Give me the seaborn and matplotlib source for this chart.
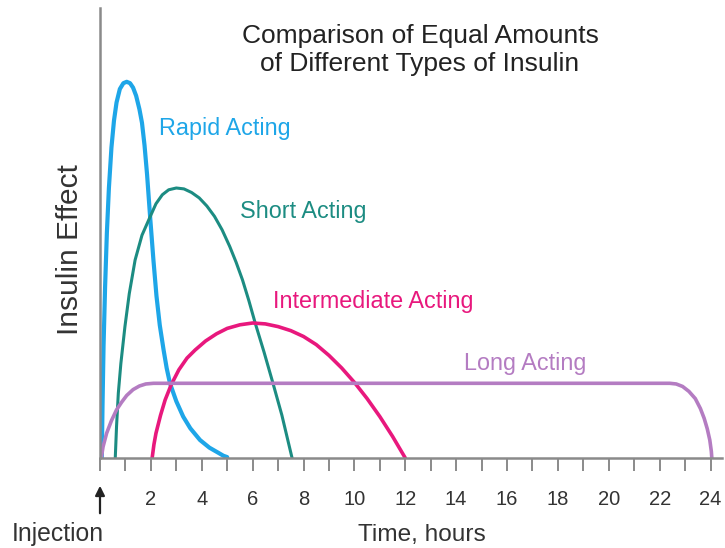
import matplotlib
matplotlib.use("Agg")
import matplotlib.pyplot as plt
import seaborn as sns

# data (hours after injection, relative insulin effect)
rapid_hours = [0.07, 0.1, 0.14, 0.2, 0.27, 0.35, 0.45, 0.55, 0.65, 0.78, 0.92, 1.05,
               1.18, 1.3, 1.42, 1.55, 1.65, 1.75, 1.85, 1.97, 2.1, 2.22, 2.35, 2.5,
               2.62, 2.75, 3.0, 3.27, 3.55, 3.93, 4.3, 4.7, 4.85, 5.0]
rapid_effect = [0, 12, 25, 38, 50, 60, 69, 75, 79, 82, 83.3, 83.6,
                83.3, 82.3, 80.5, 77.5, 74.5, 69.5, 63, 53.6, 44, 36, 29.5, 24,
                20, 16.6, 12.6, 9.2, 6.6, 4.0, 2.3, 1.0, 0.5, 0.2]

short_hours = [0.6, 0.65, 0.72, 0.82, 0.98, 1.15, 1.38, 1.65, 1.97, 2.2, 2.45, 2.7,
               3.0, 3.3, 3.6, 3.9, 4.2, 4.5, 4.8, 5.1, 5.35, 5.6, 5.85, 6.1,
               6.45, 6.8, 7.15, 7.55]
short_effect = [0, 7, 14.4, 21, 29.2, 36.5, 44, 49.5, 53.6, 56.5, 58.5, 59.6,
                60, 59.8, 59, 57.8, 56, 53.7, 50.7, 47, 43.5, 39.6, 35, 30,
                23.5, 16.6, 9.5, 0]

inter_hours = [2.05, 2.12, 2.2, 2.38, 2.56, 2.8, 3.1, 3.42, 3.74, 4.15, 4.58, 5.0,
               5.5, 6.0, 6.5, 7.0, 7.5, 8.0, 8.5, 9.0, 9.5, 10.0, 10.5, 11.0,
               11.5, 12.0]
inter_effect = [0, 3, 5.5, 9.5, 12.9, 16.3, 19.6, 22.2, 24, 26, 27.6, 28.8,
                29.6, 30, 29.8, 29.2, 28.3, 27, 25.2, 22.8, 20.0, 16.8, 13.2, 9.2,
                4.8, 0]

long_hours = [0.05, 0.12, 0.26, 0.45, 0.65, 0.85, 1.05, 1.3, 1.55, 1.8, 2.1,
              22.4, 22.65, 22.9, 23.15, 23.4, 23.6, 23.75, 23.87, 23.97, 24.03, 24.05]
long_effect = [0, 2.5, 5.5, 8.3, 10.7, 12.4, 13.9, 15.2, 16.0, 16.45, 16.6,
               16.6, 16.45, 15.9, 14.8, 13.2, 11, 8.8, 6.5, 4, 1.5, 0]

hour_ticks = list(range(0, 25))
hour_labels = [str(h) if h % 2 == 0 and h > 0 else "" for h in hour_ticks]

series = [
    ("Rapid Acting", rapid_hours, rapid_effect, "#1ea6e8", 3.0, (2.32, 73.3)),
    ("Short Acting", short_hours, short_effect, "#1c8c82", 2.2, (5.5, 54.8)),
    ("Intermediate Acting", inter_hours, inter_effect, "#e8187d", 2.6, (6.81, 34.7)),
    ("Long Acting", long_hours, long_effect, "#b47cc2", 2.6, (14.3, 21.1)),
]

sns.set_theme(style="white")
plain = ["Liberation Sans", "DejaVu Sans"]
plt.rcParams["font.family"] = plain

fig = plt.figure(figsize=(7.25, 5.48), dpi=100)
ax = fig.add_axes([100 / 725, 90 / 548, 622 / 725, 450 / 548])

for name, xs, ys, col, lw, (tx, ty) in series:
    sns.lineplot(x=xs, y=ys, ax=ax, color=col, linewidth=lw, estimator=None,
                 sort=False, solid_capstyle="round", solid_joinstyle="round")
    ax.text(tx, ty, name, color=col, fontsize=16.8, va="center", ha="left")

ax.set_xlim(0, 24.45)
ax.set_ylim(0, 100)
ax.set_yticks([])
ax.set_xticks(hour_ticks)
ax.set_xticklabels(hour_labels, fontsize=14.5, color="#333333")
ax.tick_params(axis="x", direction="out", length=9, width=1.4, color="#8a8a8a",
               pad=14, bottom=True)
for side in ["top", "right"]:
    ax.spines[side].set_visible(False)
for side in ["left", "bottom"]:
    ax.spines[side].set_color("#8a8a8a")
    ax.spines[side].set_linewidth(1.8)
ax.set_xlabel("")
ax.set_ylabel("")

# title
fig.text(420 / 725, 1 - 43 / 548, "Comparison of Equal Amounts", ha="center",
         va="baseline", fontsize=19, color="#222222")
fig.text(420 / 725, 1 - 71.5 / 548, "of Different Types of Insulin", ha="center",
         va="baseline", fontsize=19, color="#222222")

# axis titles
fig.text(70 / 725, 1 - 250 / 548, "Insulin Effect", rotation=90, ha="center",
         va="center", fontsize=21.5, color="#333333")
fig.text(422 / 725, 1 - 541.5 / 548, "Time, hours", ha="center", va="baseline",
         fontsize=17.6, color="#333333")
fig.text(58 / 725, 1 - 541.5 / 548, "Injection", ha="center", va="baseline",
         fontsize=17.8, color="#333333")

# injection arrow under the zero hour
ax.annotate("", xy=(100, 548 - 483), xycoords="figure pixels",
            xytext=(100, 548 - 516), textcoords="figure pixels",
            arrowprops=dict(arrowstyle="-|>", color="#222222", lw=1.6,
                            mutation_scale=14))

fig.savefig("out.png", dpi=100)
